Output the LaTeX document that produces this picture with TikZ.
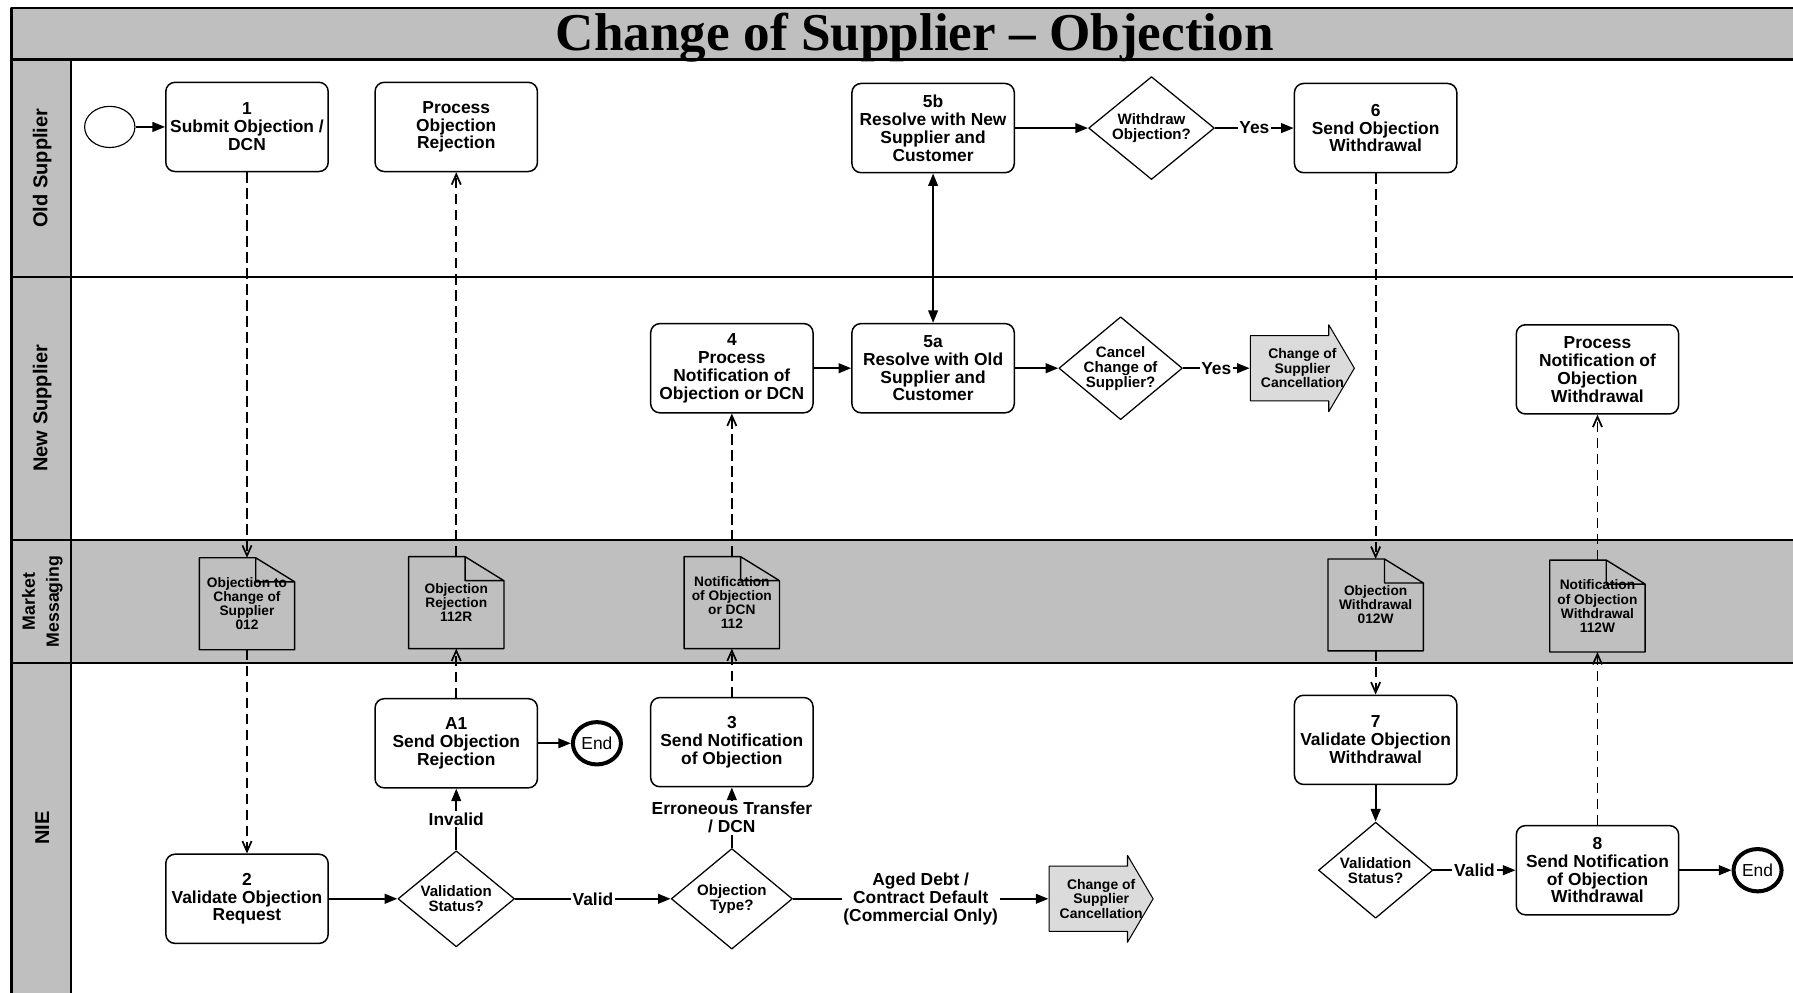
\documentclass[tikz,border=0pt]{standalone}
\usepackage{fontspec}
\setmainfont{Liberation Sans}
\newfontfamily\titlefont{Liberation Serif}
\usetikzlibrary{arrows.meta,shapes.geometric}
\definecolor{cqcqcq}{rgb}{0.75,0.75,0.75}
\definecolor{dcdcdc}{rgb}{0.86,0.86,0.86}
\newcommand{\boxfont}{\fontsize{15.2}{15.6}\selectfont\bfseries}
\newcommand{\dfont}{\fontsize{13.2}{13.2}\selectfont\bfseries}
\newcommand{\docfont}{\fontsize{12}{12.3}\selectfont\bfseries}
\newcommand{\cosfont}{\fontsize{12.2}{12.7}\selectfont\bfseries}
\newcommand{\lanefont}{\fontsize{17.5}{21}\selectfont\bfseries}

\begin{document}
\begin{tikzpicture}[line join=round,>={Triangle[length=11pt,width=8.5pt]},x=1pt,y=-1pt,
  lane/.style={line width=2pt},
  lanelbl/.style={rotate=90,align=center,font=\lanefont},
  box/.style={draw,fill=white,rounded corners=8pt,line width=1.3pt,minimum width=142pt,minimum height=78pt,inner sep=1pt,align=center,font=\boxfont},
  decision/.style={diamond,draw,fill=white,line width=1.1pt,minimum width=108pt,minimum height=90pt,inner sep=0pt},
  dtext/.style={align=center,font=\dfont},
  msg/.style={minimum width=83pt,minimum height=80pt,inner sep=0pt,align=center,font=\docfont},
  docline/.style={line width=1.2pt},
  cosarrow/.style={minimum width=92pt,minimum height=77pt,inner sep=0pt,align=center,font=\cosfont,
    path picture={\draw[fill=dcdcdc,line width=0.9pt] ([shift={(0.5pt,-10pt)}]path picture bounding box.north west) -- ([shift={(-23pt,-10pt)}]path picture bounding box.north east) -- ([shift={(-23pt,-0.5pt)}]path picture bounding box.north east) -- ([xshift=-0.6pt]path picture bounding box.east) -- ([shift={(-23pt,0.5pt)}]path picture bounding box.south east) -- ([shift={(-23pt,10pt)}]path picture bounding box.south east) -- ([shift={(0.5pt,10pt)}]path picture bounding box.south west) -- cycle;}},
  startev/.style={ellipse,draw,fill=white,line width=1pt,minimum width=44pt,minimum height=36pt,inner sep=0pt},
  endev/.style={ellipse,draw,fill=white,line width=3.5pt,minimum width=42pt,minimum height=37pt,inner sep=0pt,font=\fontsize{15.2}{15.6}\selectfont},
  flow/.style={->,line width=1.6pt},
  msgflow/.style={-{Straight Barb[length=9pt,width=8pt]},line width=1.5pt,dash pattern=on 9pt off 5pt},
  lbl/.style={fill=white,inner sep=1.5pt,align=center,font=\boxfont}]
\useasboundingbox (0,0) rectangle (1568,868);
\fill[color=cqcqcq] (10,7) rectangle (1568,52);
\fill[color=cqcqcq] (10,52) rectangle (62,868);
\fill[color=cqcqcq] (62,472) rectangle (1568,580);
\draw[lane] (1568,7) -- (10,7) -- (10,868);
\draw[lane] (62,52) -- (62,868);
\foreach \y in {52,242,472,580}
  \draw[lane] (10,\y) -- (1568,\y);
\node[font=\titlefont\fontsize{46.5}{48}\selectfont\bfseries] (title) at (800,33) {Change of Supplier – Objection};
\node[lanelbl] (los) at (37,147) {Old Supplier};
\node[lanelbl] (lns) at (37,357) {New Supplier};
\node[lanelbl,font=\fontsize{15.5}{21}\selectfont\bfseries] (lmm) at (37,526) {Market\\Messaging};
\node[lanelbl] (lnie) at (37,724) {NIE};

\node[startev] (st) at (96,111) {};
\node[box] (b1) at (216,111) {1\\Submit Objection /\\DCN};
\node[box] (por) at (399,111) {Process\\Objection\\Rejection};
\node[box] (b5b) at (816,112) {5b\\Resolve with New\\Supplier and\\Customer};
\node[decision,minimum width=110pt,label={[dtext]center:{Withdraw\\Objection?}}] (wd) at (1007,112) {};
\node[box] (b6) at (1203,112) {6\\Send Objection\\Withdrawal};

\node[box] (b4) at (640,322) {4\\Process\\Notification of\\Objection or DCN};
\node[box] (b5a) at (816,322) {5a\\Resolve with Old\\Supplier and\\Customer};
\node[decision,label={[dtext]center:{Cancel\\Change of\\Supplier?}}] (cc) at (980,322) {};
\node[cosarrow] (cos1) at (1139,322) {Change of\\Supplier\\Cancellation};
\node[box] (pnw) at (1397,323) {Process\\Notification of\\Objection\\Withdrawal};

\node[msg] (m012) at (216,528) {Objection to\\Change of\\Supplier\\012};
\node[msg] (m112r) at (399,527) {Objection\\Rejection\\112R};
\node[msg] (m112) at (640,527) {Notification\\of Objection\\or DCN\\112};
\node[msg] (m012w) at (1203,529) {Objection\\Withdrawal\\012W};
\node[msg] (m112w) at (1397,530) {Notification\\of Objection\\Withdrawal\\112W};
\foreach \m in {m012,m112r,m112,m012w,m112w}
  \draw[docline] (\m.south west) -- (\m.north west) -- ([xshift=-34pt]\m.north east) -- ([yshift=-21pt]\m.north east) -- (\m.south east) -- cycle
    ([xshift=-34pt]\m.north east) |- ([yshift=-21pt]\m.north east);

\node[box] (a1) at (399,650) {A1\\Send Objection\\Rejection};
\node[endev] (e1) at (522,650) {End};
\node[box] (b3) at (640,649) {3\\Send Notification\\of Objection};
\node[box] (b2) at (216,786) {2\\Validate Objection\\Request};
\node[decision,minimum width=102pt,minimum height=84pt,label={[dtext]center:{Validation\\Status?}}] (vs1) at (399,786) {};
\node[decision,minimum width=106pt,minimum height=88pt,label={[dtext]center:{Objection\\Type?}}] (ot) at (640,786) {};
\node[cosarrow] (cos2) at (963,786) {Change of\\Supplier\\Cancellation};
\node[box] (b7) at (1203,647) {7\\Validate Objection\\Withdrawal};
\node[decision,minimum width=100pt,minimum height=84pt,label={[dtext]center:{Validation\\Status?}}] (vs2) at (1203,761) {};
\node[box] (b8) at (1397,761) {8\\Send Notification\\of Objection\\Withdrawal};
\node[endev] (e2) at (1537,761) {End};

\draw[flow] (st) -- (b1);
\draw[flow] (b5b) -- (wd);
\draw[flow] (wd) -- node[lbl] {Yes} (b6);
\draw[flow,<->] (b5b) -- (b5a);
\draw[flow] (b4) -- (b5a);
\draw[flow] (b5a) -- (cc);
\draw[flow] (cc) -- node[lbl] {Yes} (cos1);
\draw[flow] (b2) -- (vs1);
\draw[flow] (vs1) -- node[lbl] {Valid} (ot);
\draw[flow] (vs1) -- node[lbl] {Invalid} (a1);
\draw[flow] (a1) -- (e1);
\draw[flow] (ot) -- node[lbl] {Erroneous Transfer\\/ DCN} (b3);
\draw[flow] (ot) -- node[lbl] {Aged Debt /\\Contract Default\\(Commercial Only)} (cos2);
\draw[flow] (b7) -- (vs2);
\draw[flow] (vs2) -- node[lbl] {Valid} (b8);
\draw[flow] (b8) -- (e2);

\draw[msgflow] (b1) -- (m012);
\draw[msgflow] (m012) -- (b2);
\draw[msgflow] (a1) -- (m112r);
\draw[msgflow] (m112r) -- (por);
\draw[msgflow] (b3) -- (m112);
\draw[msgflow] (m112) -- (b4);
\draw[msgflow] (b6) -- (m012w);
\draw[msgflow] (m012w) -- (b7);
\draw[msgflow] (b8) -- (m112w);
\draw[msgflow] (m112w) -- (pnw);
\end{tikzpicture}
\end{document}
